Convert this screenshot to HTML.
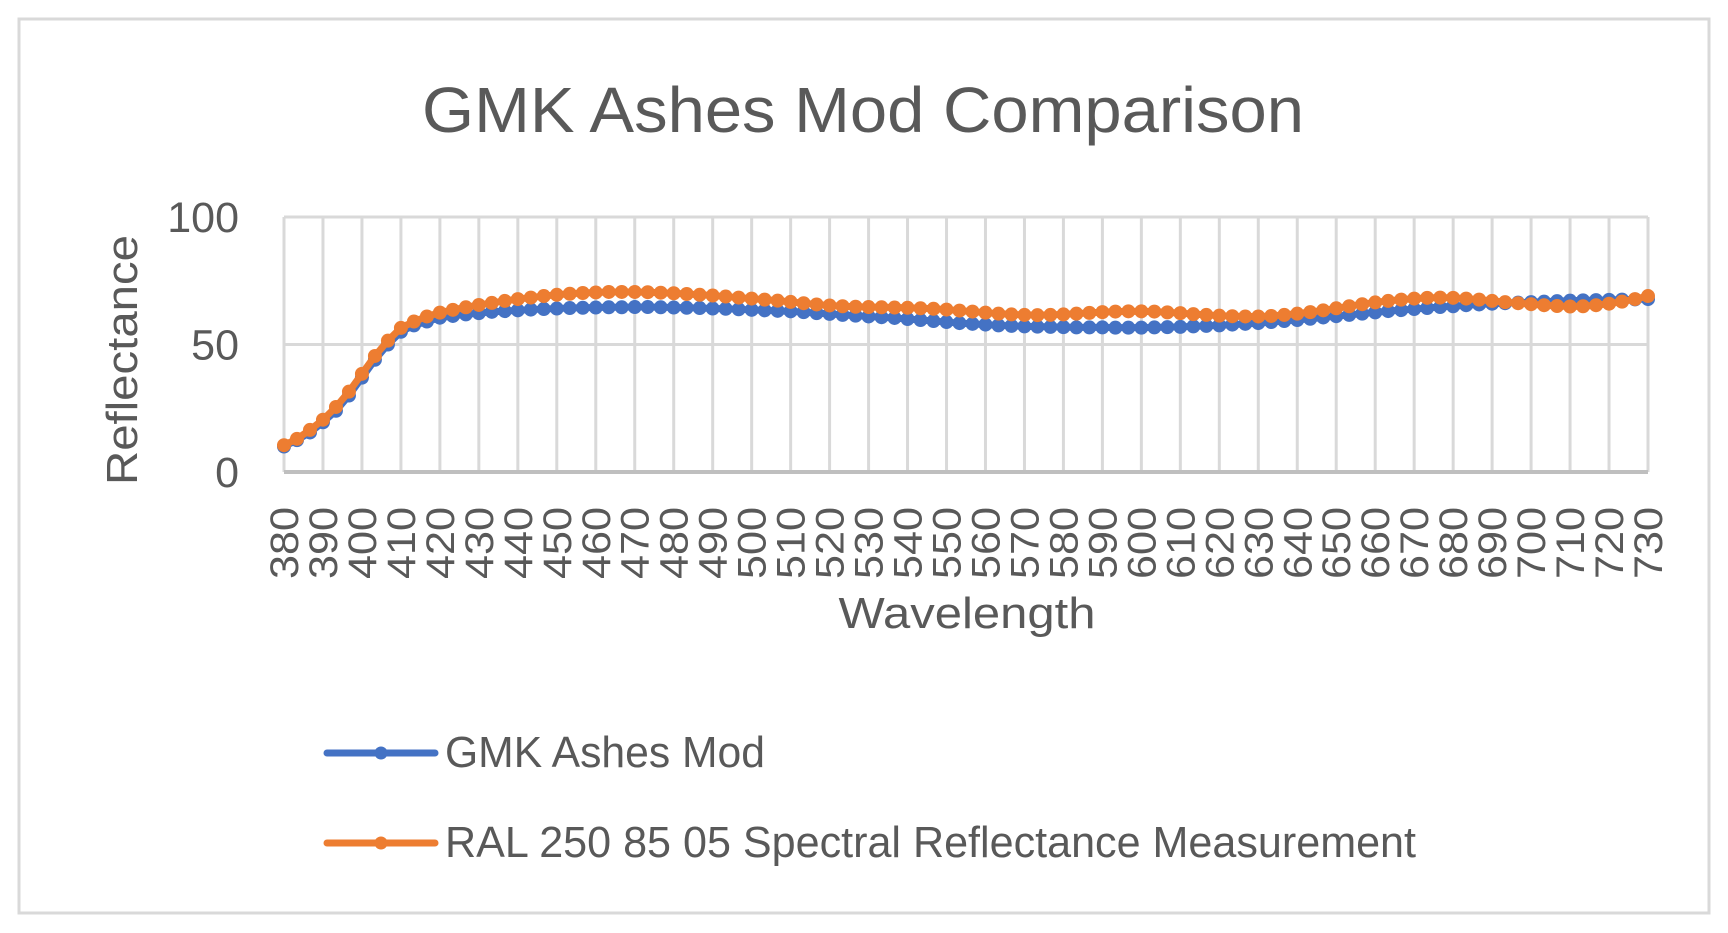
<!DOCTYPE html>
<html><head><meta charset="utf-8"><style>
html,body{margin:0;padding:0;background:#fff;}
svg{display:block;font-family:"Liberation Sans",sans-serif;}
</style></head><body>
<svg id="chart" width="1728" height="933" viewBox="0 0 1728 933" xmlns="http://www.w3.org/2000/svg">
<rect x="19" y="19" width="1690" height="894" fill="#fff" stroke="#d9d9d9" stroke-width="3"/>
<text x="863" y="132" text-anchor="middle" font-size="64" fill="#595959" textLength="882" lengthAdjust="spacingAndGlyphs">GMK Ashes Mod Comparison</text>
<g id="grid"></g>
<g id="xticks"></g>
<g id="yticks"></g>
<g id="series"></g>
<text x="967" y="628" text-anchor="middle" font-size="44" fill="#595959" textLength="257" lengthAdjust="spacingAndGlyphs">Wavelength</text>
<text x="0" y="0" transform="translate(137,360) rotate(-90)" text-anchor="middle" font-size="44" fill="#595959" textLength="250" lengthAdjust="spacingAndGlyphs">Reflectance</text>
<g>
 <g>
  <line x1="327" y1="753" x2="435" y2="753" stroke="#4472c4" stroke-width="7" stroke-linecap="round"/>
  <circle cx="381" cy="753" r="6.5" fill="#4472c4"/>
  <text x="445" y="767" font-size="44" fill="#595959" textLength="320" lengthAdjust="spacingAndGlyphs">GMK Ashes Mod</text>
 </g>
 <g>
  <line x1="327" y1="843" x2="435" y2="843" stroke="#ed7d31" stroke-width="7" stroke-linecap="round"/>
  <circle cx="381" cy="843" r="6.5" fill="#ed7d31"/>
  <text x="445" y="857" font-size="44" fill="#595959" textLength="971" lengthAdjust="spacingAndGlyphs">RAL 250 85 05 Spectral Reflectance Measurement</text>
 </g>
</g>
</svg>
<script>
const xTickLabels = [380,390,400,410,420,430,440,450,460,470,480,490,500,510,520,530,540,550,560,570,580,590,600,610,620,630,640,650,660,670,680,690,700,710,720,730];
const yTickLabels = [0,50,100];
const gmkValues = [10,12.5,15.5,19.5,24,30,37,44,50,55,57.5,59,60.5,61.2,61.8,62.3,62.8,63.1,63.4,63.7,63.9,64.1,64.3,64.4,64.5,64.6,64.6,64.7,64.7,64.6,64.5,64.4,64.3,64.1,64,63.8,63.6,63.4,63.2,63,62.7,62.3,62,61.6,61.3,61,60.7,60.4,60,59.6,59.2,58.8,58.4,58.1,57.8,57.5,57.3,57.1,57,56.9,56.8,56.7,56.7,56.7,56.6,56.6,56.6,56.7,56.8,56.9,57.1,57.3,57.5,57.8,58.1,58.4,58.8,59.2,59.6,60.1,60.6,61.1,61.6,62.1,62.6,63.1,63.5,63.9,64.3,64.7,65,65.4,65.7,66,66.2,66.4,66.6,66.8,67,67.2,67.3,67.4,67.5,67.6,67.7,67.8];
const ralValues = [10.5,13,16.5,20.5,25.5,31.5,38.5,45.5,51.5,56.5,59,61,62.5,63.6,64.6,65.5,66.3,67.1,67.8,68.4,69,69.5,69.9,70.2,70.4,70.6,70.6,70.6,70.5,70.3,70.1,69.8,69.5,69.2,68.8,68.4,68,67.6,67.2,66.7,66.2,65.7,65.3,65,64.8,64.7,64.6,64.5,64.4,64.2,64,63.7,63.3,62.9,62.5,62.1,61.8,61.6,61.5,61.6,61.8,62.1,62.4,62.7,62.9,63,63,62.9,62.6,62.3,61.9,61.6,61.3,61.1,61,61,61.2,61.6,62.1,62.7,63.4,64.2,65,65.8,66.5,67.1,67.6,68,68.3,68.4,68.3,68,67.6,67.1,66.6,66.2,65.8,65.4,65.1,64.9,65,65.4,66,66.8,67.8,69];

const NS='http://www.w3.org/2000/svg';
const L=284,R=1648,T=217,B=472;
const nPts=gmkValues.length;
function xIdx(i){return L+(R-L)*i/(nPts-1);}
function xWave(w){return L+(R-L)*(w-xTickLabels[0])/(xTickLabels[xTickLabels.length-1]-xTickLabels[0]);}
function yVal(v){return B-(B-T)*v/100;}
function mk(tag,attrs,parent){const e=document.createElementNS(NS,tag);for(const k in attrs)e.setAttribute(k,attrs[k]);parent.appendChild(e);return e;}

const grid=document.getElementById('grid');
xTickLabels.forEach(w=>{
  const x=xWave(w);
  const ln=mk('line',{x1:x,y1:T,x2:x,y2:B,stroke:'#d9d9d9','stroke-width':3},grid);
  
  
});
yTickLabels.forEach(v=>{
  const y=yVal(v);
  const ln=mk('line',{x1:L,y1:y,x2:R,y2:y,stroke:v===0?'#bfbfbf':'#d9d9d9','stroke-width':v===0?4:3},grid);
  
  
});
const yt=document.getElementById('yticks');
yTickLabels.forEach(v=>{
  const t=mk('text',{x:239,y:yVal(v)+15,'text-anchor':'end','font-size':43,fill:'#595959'},yt);
  t.textContent=v;
  
  
});
const xt=document.getElementById('xticks');
xTickLabels.forEach(w=>{
  const x=xWave(w);
  const t=mk('text',{x:0,y:0,transform:`translate(${x+14},579) rotate(-90)`,'font-size':40,fill:'#595959',textLength:72,lengthAdjust:'spacingAndGlyphs'},xt);
  t.textContent=w;
  
  
});
const sg=document.getElementById('series');
function drawSeries(vals,color,name){
  const g=mk('g',{},sg);
  
  
  const pts=vals.map((v,i)=>xIdx(i).toFixed(2)+','+yVal(v).toFixed(2)).join(' ');
  const pl=mk('polyline',{points:pts,fill:'none',stroke:color,'stroke-width':7,'stroke-linejoin':'round'},g);
  
  
  vals.forEach((v,i)=>{
    const c=mk('circle',{cx:xIdx(i),cy:yVal(v),r:7,fill:color},g);
    
    
  });
}
drawSeries(gmkValues,'#4472c4','gmk-series');
drawSeries(ralValues,'#ed7d31','ral-series');
</script>
</body></html>
